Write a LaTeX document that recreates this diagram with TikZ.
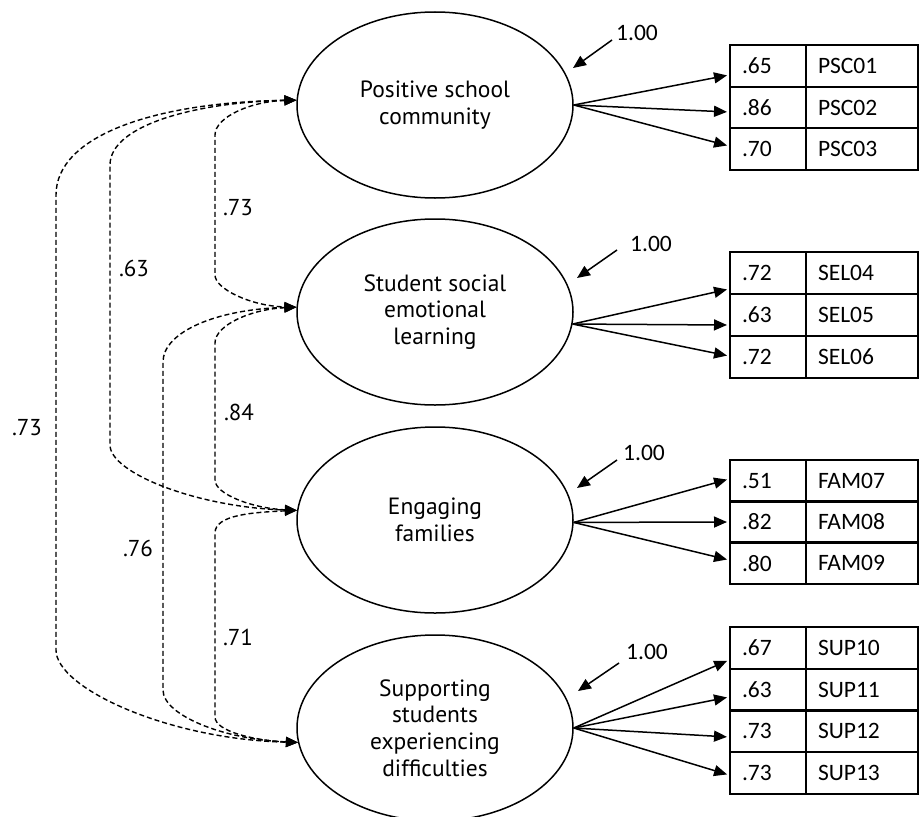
\documentclass[tikz,border=0pt]{standalone}
\usepackage{fontspec}
\setmainfont{PT Sans}
\newfontfamily\tabfont{Carlito}
\usetikzlibrary{arrows.meta,shapes.geometric,calc}
\begin{document}
\begin{tikzpicture}[x=1pt,y=-1pt,
  latent/.style={draw, ellipse, line width=1.5pt, minimum width=276pt, minimum height=186pt,
    inner sep=0pt, align=center, font=\fontsize{23.5}{26.7}\selectfont},
  cellv/.style={draw, line width=2pt, minimum height=41.7pt, text width=52pt,
    inner xsep=12pt, inner ysep=0pt, align=left, font=\tabfont\fontsize{23.5}{28}\selectfont},
  celln/.style={cellv, text width=88pt},
  load/.style={line width=1.5pt, -{Triangle[length=13pt,width=11pt]}, shorten >=2pt},
  resid/.style={line width=1.5pt, -{Triangle[length=13pt,width=11pt]}},
  cov/.style={line width=1.4pt, dash pattern=on 5pt off 3pt,
    {Triangle[length=12pt,width=10pt]}-{Triangle[length=12pt,width=10pt]}},
  covlab/.style={font=\fontsize{23}{26}\selectfont, inner sep=0pt},
  reslab/.style={font=\tabfont\fontsize{23.5}{28}\selectfont, inner sep=0pt}
]
\useasboundingbox (0,0) rectangle (920,816);

% latent variables
\node[latent] (e1) at (435,105) {Positive school\\community};
\node[latent] (e2) at (435,312) {Student social\\emotional\\learning};
\node[latent] (e3) at (435,520) {Engaging\\families};
\node[latent] (e4) at (435,728) {Supporting\\students\\experiencing\\difficulties};

% indicator tables
\foreach \v/\n [count=\i] in {.65/PSC01,.86/PSC02,.70/PSC03} {
  \node[cellv] (ta\i) at (768,{45+(\i-0.5)*41.67}) {\v};
  \node[celln] (na\i) at (862,{45+(\i-0.5)*41.67}) {\n};
}
\foreach \v/\n [count=\i] in {.72/SEL04,.63/SEL05,.72/SEL06} {
  \node[cellv] (tb\i) at (768,{252+(\i-0.5)*42}) {\v};
  \node[celln] (nb\i) at (862,{252+(\i-0.5)*42}) {\n};
}
\foreach \v/\n [count=\i] in {.51/FAM07,.82/FAM08,.80/FAM09} {
  \node[cellv] (tc\i) at (768,{460+(\i-0.5)*41.33}) {\v};
  \node[celln] (nc\i) at (862,{460+(\i-0.5)*41.33}) {\n};
}
\foreach \v/\n [count=\i] in {.67/SUP10,.63/SUP11,.73/SUP12,.73/SUP13} {
  \node[cellv] (td\i) at (768,{627+(\i-0.5)*41.75}) {\v};
  \node[celln] (nd\i) at (862,{627+(\i-0.5)*41.75}) {\n};
}

% loadings
\draw[load] (e1.east) -- (ta1.west |- 0,75);
\draw[load] (e1.east) -- (ta2.west |- 0,112);
\draw[load] (e1.east) -- (ta3.west |- 0,146);
\draw[load] (e2.-5) -- (tb1.west |- 0,289);
\draw[load] (e2.-5) -- (tb2.west |- 0,325);
\draw[load] (e2.-5) -- (tb3.west |- 0,356);
\draw[load] (e3.-1) -- (tc1.west |- 0,479);
\draw[load] (e3.-1) -- (tc2.west |- 0,522);
\draw[load] (e3.-1) -- (tc3.west |- 0,560);
\draw[load] (e4.east) -- (td1.west |- 0,660);
\draw[load] (e4.east) -- (td2.west |- 0,697);
\draw[load] (e4.east) -- (td3.west |- 0,737);
\draw[load] (e4.east) -- (td4.west |- 0,775);

% residual variances
\node[reslab] (r1) at (637,33) {1.00};
\node[reslab] (r2) at (651,244) {1.00};
\node[reslab] (r3) at (644,453) {1.00};
\node[reslab] (r4) at (647,652) {1.00};
\coordinate (r1a) at (612,40);  \coordinate (r1b) at (573,68);
\coordinate (r2a) at (617,250); \coordinate (r2b) at (577,278);
\coordinate (r3a) at (617,460); \coordinate (r3b) at (577,488);
\coordinate (r4a) at (619,663); \coordinate (r4b) at (578,691);
\draw[resid] (r1a) -- (r1b);
\draw[resid] (r2a) -- (r2b);
\draw[resid] (r3a) -- (r3b);
\draw[resid] (r4a) -- (r4b);

% covariances
\draw[cov] (e1.178) .. controls +(-45,1) and +(0,-18) .. (215,135) -- (215,275)
  .. controls +(0,14) and +(-45,-1) .. (e2.178);
\draw[cov] (e1.178) .. controls +(-100,2) and +(0,-40) .. (110,165) -- (110,445)
  .. controls +(0,28) and +(-100,-3) .. (e3.176);
\draw[cov] (e1.178) .. controls +(-140,2) and +(0,-60) .. (56,195) -- (56,650)
  .. controls +(0,38) and +(-130,-3) .. (e4.186);
\draw[cov] (e2.178) .. controls +(-45,2) and +(0,-18) .. (215,343) -- (215,480)
  .. controls +(0,14) and +(-45,-2) .. (e3.176);
\draw[cov] (e2.178) .. controls +(-80,2) and +(0,-30) .. (163,362) -- (163,690)
  .. controls +(0,25) and +(-75,-3) .. (e4.186);
\draw[cov] (e3.176) .. controls +(-45,2) and +(0,-18) .. (215,533) -- (215,717)
  .. controls +(0,14) and +(-45,-2) .. (e4.186);

\node[covlab] (c12) at (238,208) {.73};
\node[covlab] (c13) at (134,268) {.63};
\node[covlab] (c14) at (27,428) {.73};
\node[covlab] (c23) at (239,412) {.84};
\node[covlab] (c24) at (138,548) {.76};
\node[covlab] (c34) at (238,637) {.71};
\end{tikzpicture}
\end{document}
